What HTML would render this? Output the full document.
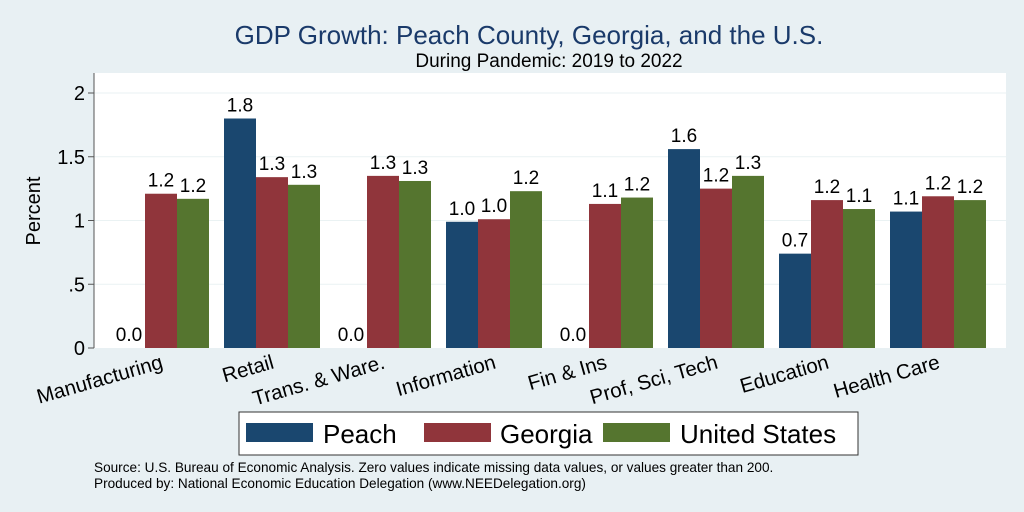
<!DOCTYPE html>
<html><head><meta charset="utf-8"><style>
body{margin:0;background:#e8f0f3;}
svg{display:block;font-family:"Liberation Sans",sans-serif;}
</style></head><body>
<svg id="c" width="1024" height="512">
<rect width="1024" height="512" fill="#e8f0f3"/>
<text x="529" y="44" text-anchor="middle" font-size="26" fill="#1a3a6a">GDP Growth: Peach County, Georgia, and the U.S.</text>
<text x="549" y="67" text-anchor="middle" font-size="19" fill="#000">During Pandemic: 2019 to 2022</text>
<rect x="94" y="73" width="912" height="275" fill="#fff"/>
<g id="grid"></g><g id="bars"></g><g id="xl"></g>
<line x1="94" y1="73" x2="94" y2="348" stroke="#555"/>
<text transform="translate(40,211) rotate(-90)" text-anchor="middle" font-size="20">Percent</text>
<g>
<rect x="239" y="412" width="619" height="43" fill="#fff" stroke="#333"/>
<rect x="246" y="423" width="67" height="19" fill="#1a476f"/>
<text x="323" y="443" font-size="26">Peach</text>
<rect x="424" y="423" width="67" height="19" fill="#90353b"/>
<text x="500" y="443" font-size="26">Georgia</text>
<rect x="603" y="423" width="67" height="19" fill="#55752f"/>
<text x="680" y="443" font-size="26">United States</text>
</g>
<text x="94" y="472" font-size="13.6">Source: U.S. Bureau of Economic Analysis. Zero values indicate missing data values, or values greater than 200.</text>
<text x="94" y="488" font-size="13.6">Produced by: National Economic Education Delegation (www.NEEDelegation.org)</text>
</svg>
<script>
const categories=["Manufacturing","Retail","Trans. & Ware.","Information","Fin & Ins","Prof, Sci, Tech","Education","Health Care"];
const peach=[0,1.8,0,0.99,0,1.56,0.74,1.07];
const georgia=[1.21,1.34,1.35,1.01,1.13,1.25,1.16,1.19];
const us=[1.17,1.28,1.31,1.23,1.18,1.35,1.09,1.16];
const peachLabels=["0.0","1.8","0.0","1.0","0.0","1.6","0.7","1.1"];
const georgiaLabels=["1.2","1.3","1.3","1.0","1.1","1.2","1.2","1.2"];
const usLabels=["1.2","1.3","1.3","1.2","1.2","1.3","1.1","1.2"];
const yTicks=[0,0.5,1,1.5,2];
const yTickLabels=["0",".5","1","1.5","2"];
const NS="http://www.w3.org/2000/svg";
const y=v=>348-v*127.5;
const xc=i=>161+i*111;
function mk(p,t,a){const e=document.createElementNS(NS,t);for(const k in a)e.setAttribute(k,a[k]);p.appendChild(e);return e;}
const grid=document.getElementById('grid'),bars=document.getElementById('bars'),xl=document.getElementById('xl');
yTicks.forEach((t,i)=>{
 if(t>0){const g=mk(grid,'line',{x1:94,x2:1006,y1:y(t),y2:y(t),stroke:'#eaf2f3','stroke-width':1});
 
 }
 const tk=mk(grid,'line',{x1:88,x2:94,y1:y(t),y2:y(t),stroke:'#555'});
 
 
 const l=mk(grid,'text',{x:85,y:y(t)+7,'text-anchor':'end','font-size':20});
 l.textContent=yTickLabels[i];
 
 
});
const series=[[peach,peachLabels,'#1a476f','peach'],[georgia,georgiaLabels,'#90353b','georgia'],[us,usLabels,'#55752f','us']];
categories.forEach((c,i)=>{
 series.forEach((s,j)=>{
  const v=s[0][i],x=xc(i)-48+j*32;
  const r=mk(bars,'rect',{x:x,y:y(v),width:32,height:348-y(v),fill:s[2]});
  
  
  const t=mk(bars,'text',{x:x+16,y:y(v)-7,'text-anchor':'middle','font-size':19});
  t.textContent=s[1][i];
  
  
 });
 const t=mk(xl,'text',{transform:`translate(${xc(i)+3},${368}) rotate(-16)`,'text-anchor':'end','font-size':20.5});
 t.textContent=c;
 
 
});
</script>
</body></html>
